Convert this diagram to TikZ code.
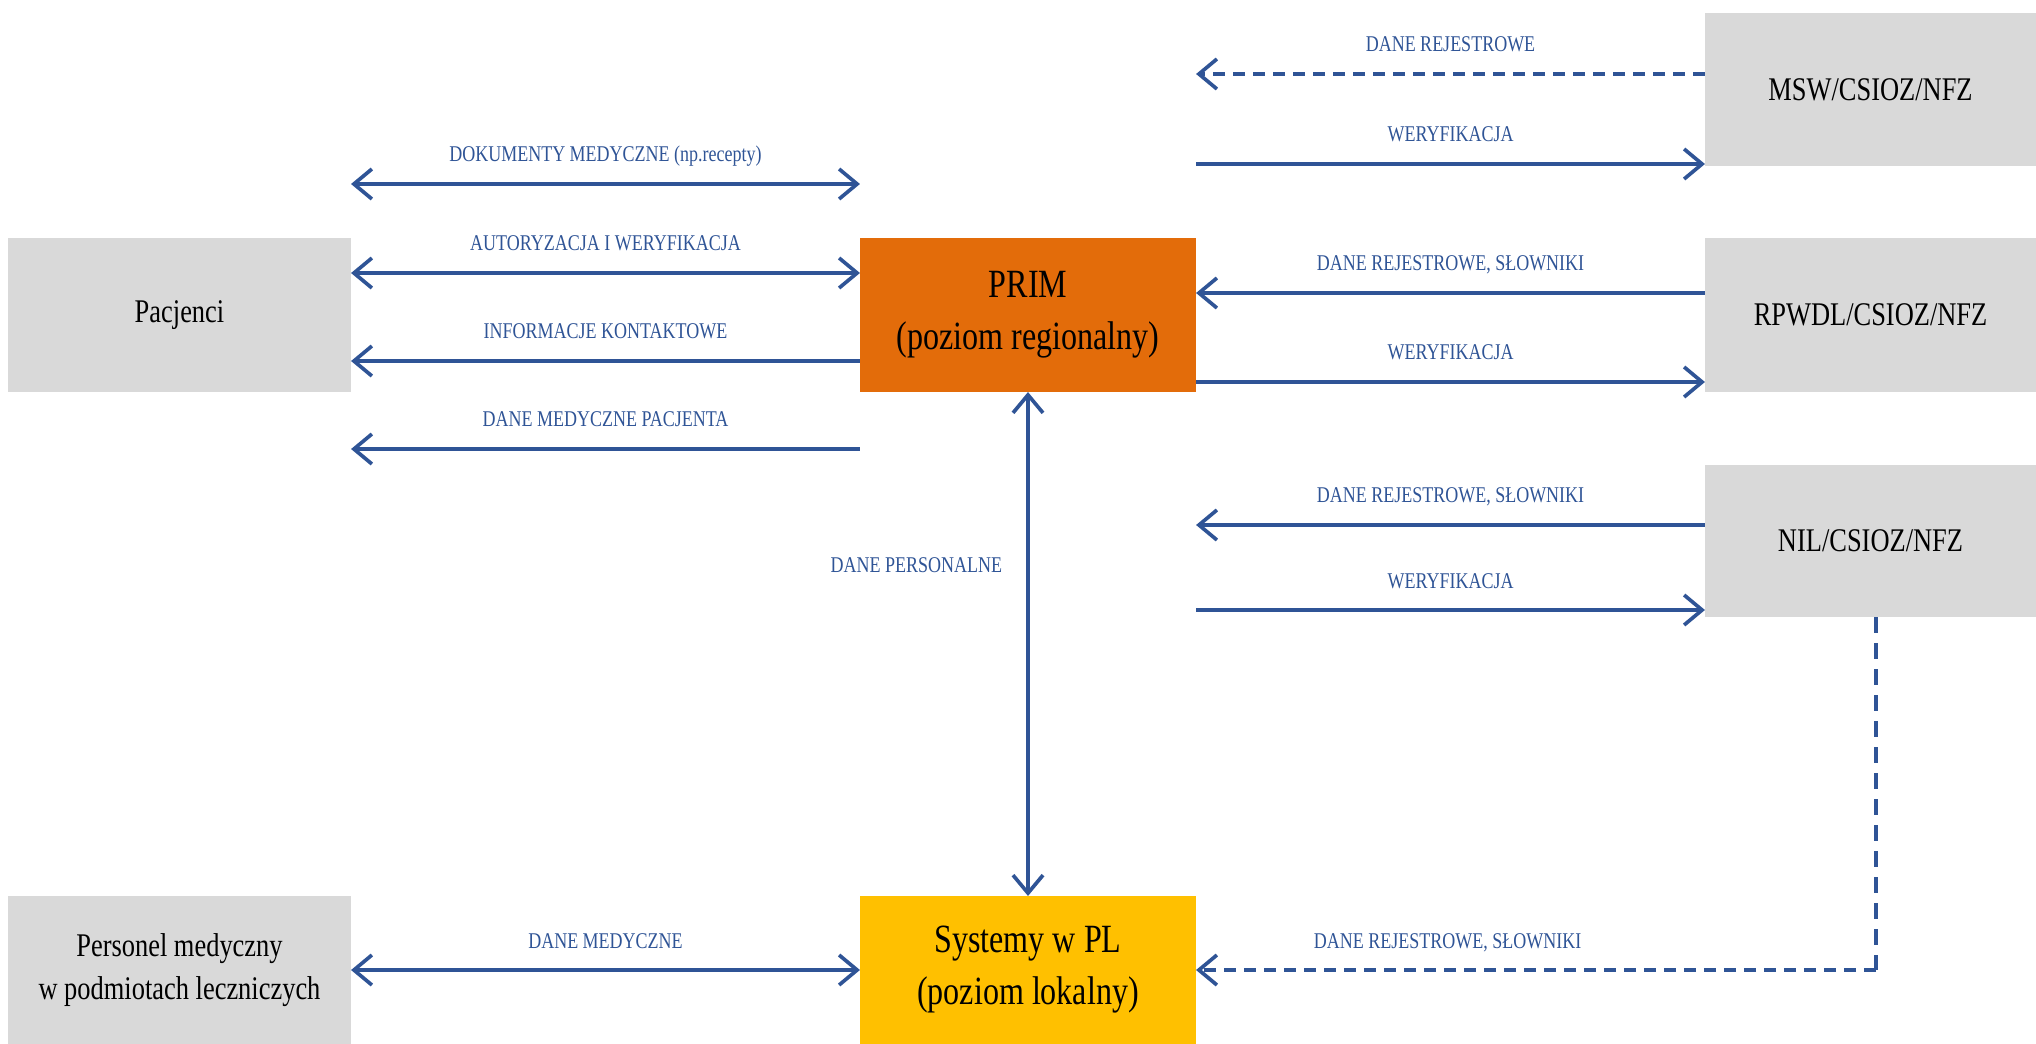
\documentclass[tikz,border=0pt]{standalone}
\usepackage{fontspec}
\setmainfont[FakeStretch=0.8]{Liberation Serif}
\usetikzlibrary{arrows.meta}

\definecolor{flowblue}{RGB}{47,84,150}
\definecolor{boxgray}{RGB}{217,217,217}
\definecolor{primorange}{RGB}{227,108,10}
\definecolor{plyellow}{RGB}{255,192,0}

\tikzset{
  box/.style={inner sep=0pt, outer sep=0pt, align=center, text=black},
  sidebox/.style={box, fill=boxgray, font=\fontsize{23.5}{30}\selectfont},
  mainbox/.style={box, minimum width=8.4cm, font=\fontsize{28.5}{37}\selectfont},
  flow/.style={draw=flowblue, line width=2.6pt, -{Straight Barb[length=0.45cm,width=0.75cm]}},
  bothflow/.style={flow, {Straight Barb[length=0.45cm,width=0.75cm]}-{Straight Barb[length=0.45cm,width=0.75cm]}},
  dashflow/.style={flow, dash pattern=on 0.3cm off 0.2cm},
  lbltext/.style={inner sep=0pt, text=flowblue, font=\fontsize{16}{18}\selectfont},
  lbl/.style={lbltext, midway, anchor=base, yshift=0.55cm}
}

\begin{document}
\begin{tikzpicture}[x=0.025cm, y=-0.025cm]
\useasboundingbox (0,0) rectangle (2036,1044);

% boxes
\node[sidebox, minimum width=8.575cm, minimum height=3.85cm] (pac) at (179.5,315) {Pacjenci};
\node[sidebox, minimum width=8.575cm, minimum height=3.7cm] (pers) at (179.5,970) {Personel medyczny\\w podmiotach leczniczych};
\node[mainbox, fill=primorange, minimum height=3.85cm] (prim) at (1028,315) {PRIM\\(poziom regionalny)};
\node[mainbox, fill=plyellow, minimum height=3.7cm] (sys) at (1028,970) {Systemy w PL\\(poziom lokalny)};
\node[sidebox, minimum width=8.275cm, minimum height=3.825cm] (msw) at (1870.5,89.5) {MSW/CSIOZ/NFZ};
\node[sidebox, minimum width=8.275cm, minimum height=3.85cm] (rpwdl) at (1870.5,315) {RPWDL/CSIOZ/NFZ};
\node[sidebox, minimum width=8.275cm, minimum height=3.8cm] (nil) at (1870.5,541) {NIL/CSIOZ/NFZ};

% Pacjenci <-> PRIM
\draw[bothflow] (pac.east |- 0,184) -- node[lbl] {DOKUMENTY MEDYCZNE (np.recepty)} (prim.west |- 0,184);
\draw[bothflow] (pac.east |- 0,273) -- node[lbl] {AUTORYZACJA I WERYFIKACJA} (prim.west |- 0,273);
\draw[flow] (prim.west |- 0,361) -- node[lbl] {INFORMACJE KONTAKTOWE} (pac.east |- 0,361);
\draw[flow] (prim.west |- 0,449) -- node[lbl] {DANE MEDYCZNE PACJENTA} (pac.east |- 0,449);

% rejestry -> PRIM
\draw[dashflow] (msw.west |- 0,74) -- node[lbl] {DANE REJESTROWE} (prim.east |- 0,74);
\draw[flow] (prim.east |- 0,164) -- node[lbl] {WERYFIKACJA} (msw.west |- 0,164);
\draw[flow] (rpwdl.west |- 0,293) -- node[lbl] {DANE REJESTROWE, SŁOWNIKI} (prim.east |- 0,293);
\draw[flow] (prim.east |- 0,382) -- node[lbl] {WERYFIKACJA} (rpwdl.west |- 0,382);
\draw[flow] (nil.west |- 0,525) -- node[lbl] {DANE REJESTROWE, SŁOWNIKI} (prim.east |- 0,525);
\draw[flow] (prim.east |- 0,610) -- node[lbl] {WERYFIKACJA} (nil.west |- 0,610);

% PRIM <-> systemy
\draw[bothflow] (prim.south) -- node[lbltext, pos=0.343, anchor=east, xshift=-0.6cm] {DANE PERSONALNE} (sys.north);
\draw[bothflow] (pers.east) -- node[lbl] {DANE MEDYCZNE} (sys.west);

% NIL -> systemy
\coordinate (nilfoot) at ([xshift=0.14cm]nil.south);
\coordinate (nilcorner) at (nilfoot |- sys.east);
\draw[draw=flowblue, line width=2.4pt, dash pattern=on 0.4cm off 0.25cm] (nilfoot) -- (nilcorner);
\draw[dashflow] (nilcorner) -- node[lbl, pos=0.63] {DANE REJESTROWE, SŁOWNIKI} (sys.east);
\end{tikzpicture}
\end{document}
